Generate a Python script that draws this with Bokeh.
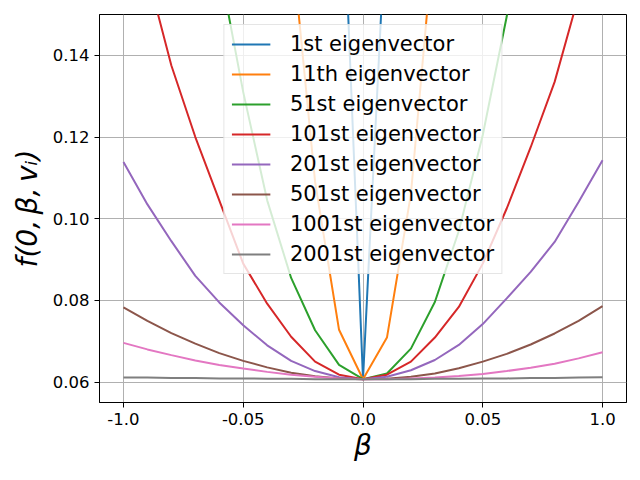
from bokeh.plotting import figure
from bokeh.models import FixedTicker, NumeralTickFormatter, Range1d
from bokeh.embed import file_html
from bokeh.resources import INLINE

beta = [-1.0, -0.9, -0.8, -0.7, -0.6, -0.5, -0.4, -0.3, -0.2, -0.1, 0.0,
        0.1, 0.2, 0.3, 0.4, 0.5, 0.6, 0.7, 0.8, 0.9, 1.0]

ev_1 = [1.02, 0.96, 0.90, 0.84, 0.76, 0.68, 0.58, 0.47, 0.35, 0.205, 0.0607,
        0.179, 0.32, 0.44, 0.55, 0.65, 0.74, 0.82, 0.89, 0.95, 1.00]
ev_11 = [1.12, 0.95, 0.79, 0.64, 0.51, 0.40, 0.28, 0.169, 0.109, 0.0728, 0.0607,
         0.0709, 0.106, 0.172, 0.26, 0.37, 0.49, 0.62, 0.76, 0.91, 1.07]
ev_51 = [0.33, 0.28, 0.235, 0.196, 0.162, 0.131, 0.1045, 0.0855, 0.0727, 0.0642, 0.0607,
         0.0621, 0.0682, 0.0796, 0.097, 0.1205, 0.1495, 0.185, 0.225, 0.27, 0.32]
ev_101 = [0.183, 0.160, 0.1375, 0.120, 0.1045, 0.089, 0.0792, 0.0711, 0.0650, 0.0618, 0.0607,
          0.0618, 0.0650, 0.0709, 0.0784, 0.089, 0.1025, 0.1175, 0.1335, 0.1545, 0.176]
ev_201 = [0.1139, 0.1035, 0.0945, 0.0860, 0.0795, 0.0739, 0.0690, 0.0652, 0.0627, 0.0612, 0.0607,
          0.0613, 0.0629, 0.0654, 0.0691, 0.0742, 0.0805, 0.0870, 0.0943, 0.1041, 0.1143]
ev_501 = [0.0783, 0.0750, 0.0720, 0.0694, 0.0671, 0.0652, 0.0636, 0.0623, 0.0614, 0.0609, 0.0607,
          0.0608, 0.0613, 0.0621, 0.0634, 0.0650, 0.0669, 0.0692, 0.0719, 0.0750, 0.0786]
ev_1001 = [0.0696, 0.0680, 0.0666, 0.0653, 0.0642, 0.0633, 0.0625, 0.0618, 0.0613, 0.0609, 0.0607,
           0.0607, 0.0609, 0.0611, 0.0615, 0.0620, 0.0627, 0.0635, 0.0645, 0.0658, 0.0673]
ev_2001 = [0.0611, 0.0611, 0.0610, 0.0610, 0.0609, 0.0609, 0.0608, 0.0608, 0.0607, 0.0607, 0.0607,
           0.0607, 0.0607, 0.0608, 0.0608, 0.0609, 0.0609, 0.0610, 0.0610, 0.0611, 0.0612]

series = [ev_1, ev_11, ev_51, ev_101, ev_201, ev_501, ev_1001, ev_2001]
labels = ["1st eigenvector", "11th eigenvector", "51st eigenvector", "101st eigenvector",
          "201st eigenvector", "501st eigenvector", "1001st eigenvector", "2001st eigenvector"]
colors = ["#1f77b4", "#ff7f0e", "#2ca02c", "#d62728", "#9467bd", "#8c564b", "#e377c2", "#7f7f7f"]

x_ticks = [-1.0, -0.5, 0.0, 0.5, 1.0]
x_tick_labels = ["-1.0", "-0.05", "0.0", "0.05", "1.0"]
y_ticks = [0.06, 0.08, 0.10, 0.12, 0.14]

p = figure(width=632, height=470, output_backend="svg", toolbar_location=None,
           x_range=Range1d(-1.1, 1.1), y_range=Range1d(0.055, 0.15),
           min_border_left=99, min_border_right=6, min_border_top=14, min_border_bottom=68)
p.background_fill_color = "white"
p.border_fill_color = "white"
p.outline_line_color = "black"
p.outline_line_width = 1

for ys, lab, col in zip(series, labels, colors):
    p.line(beta, ys, line_color=col, line_width=2, legend_label=lab)

p.xaxis.ticker = FixedTicker(ticks=x_ticks)
p.xaxis.major_label_overrides = {t: s for t, s in zip(x_ticks, x_tick_labels)}
p.yaxis.ticker = FixedTicker(ticks=y_ticks)
p.yaxis.formatter = NumeralTickFormatter(format="0.00")

for ax in (p.xaxis[0], p.yaxis[0]):
    ax.axis_line_color = "black"
    ax.major_tick_line_color = "black"
    ax.major_tick_out = 5
    ax.major_tick_in = 0
    ax.minor_tick_line_color = None
    ax.major_label_text_font = "DejaVu Sans"
    ax.major_label_text_font_size = "16.5px"
    ax.major_label_text_color = "black"
    ax.major_label_standoff = 5
    ax.axis_label_text_font = "DejaVu Sans"
    ax.axis_label_text_font_style = "italic"
    ax.axis_label_text_font_size = "28px"
    ax.axis_label_text_color = "black"

p.xaxis.axis_label = "β"
p.yaxis.axis_label = "f(0,\u2009β,\u2009vᵢ)"
p.xaxis.axis_label_standoff = 1
p.yaxis.axis_label_standoff = 6

p.grid.grid_line_color = "#b0b0b0"
p.grid.grid_line_width = 1

lg = p.legend[0]
lg.location = "top_center"
lg.margin = 10
lg.padding = 7
lg.spacing = 6
lg.glyph_width = 39
lg.glyph_height = 20
lg.label_height = 20
lg.label_standoff = 20
lg.label_text_font = "DejaVu Sans"
lg.label_text_font_size = "21px"
lg.label_text_color = "black"
lg.background_fill_color = "white"
lg.background_fill_alpha = 0.8
lg.border_line_color = "#cccccc"
lg.border_line_width = 1

open("out.html", "w").write(file_html(p, INLINE))
